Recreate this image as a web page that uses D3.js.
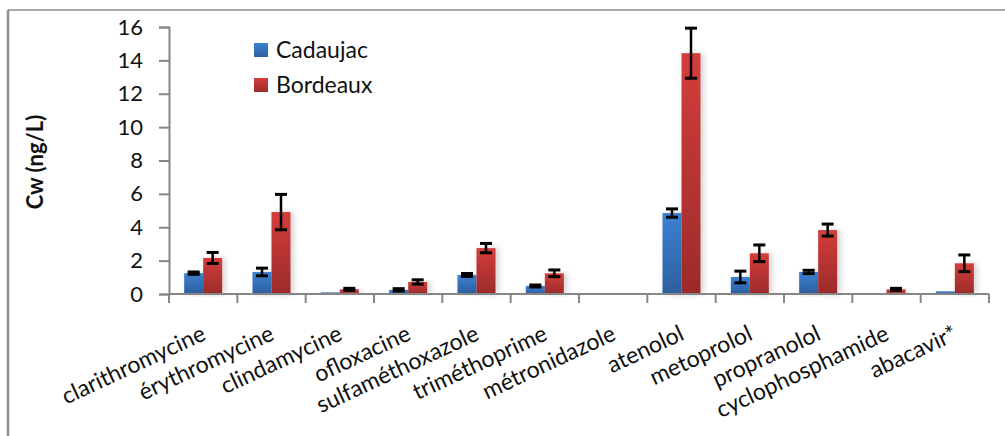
<!DOCTYPE html>
<html lang="fr">
<head>
<meta charset="UTF-8">
<title>Cw</title>
<script src="https://d3js.org/d3.v7.min.js"></script>
<style>
    body, html { margin: 0; padding: 0; background: #fff; overflow: hidden; }
    svg text { font-family: Lato, "Open Sans", sans-serif; fill: #111; }
</style>
</head>
<body>
<svg id="chart" width="1005" height="436"></svg>
<script>
// données
var categories = ["clarithromycine", "érythromycine", "clindamycine", "ofloxacine",
    "sulfaméthoxazole", "triméthoprime", "métronidazole", "atenolol",
    "metoprolol", "propranolol", "cyclophosphamide", "abacavir*"];
var seriesNames = ["Cadaujac", "Bordeaux"];
var cadaujac    = [1.25, 1.32, 0.10, 0.25, 1.14, 0.48, 0, 4.85, 1.02, 1.32, 0, 0.16];
var cadaujacErr = [0.07, 0.23, 0,    0.07, 0.09, 0.06, 0, 0.25, 0.35, 0.10, 0, 0];
var bordeaux    = [2.16, 4.91, 0.28, 0.72, 2.75, 1.24, 0, 14.43, 2.44, 3.83, 0.28, 1.84];
var bordeauxErr = [0.33, 1.06, 0.06, 0.13, 0.28, 0.20, 0, 1.50, 0.50, 0.36, 0.06, 0.50];
var yTicks = [0, 2, 4, 6, 8, 10, 12, 14, 16];

var svg = d3.select("#chart");
var defs = svg.append("defs");

// dégradés des barres
function grad(id, c1, c2) {
    var g = defs.append("linearGradient").attr("id", id)
        .attr("x1", 0).attr("y1", 0).attr("x2", 0).attr("y2", 1);
    g.append("stop").attr("offset", "0%").attr("stop-color", c1);
    g.append("stop").attr("offset", "100%").attr("stop-color", c2);
}
grad("gBlue", "#3d81d2", "#2d5f9e");
grad("gRed", "#d43d3b", "#9b2b2a");
var fillOf = { "Cadaujac": "url(#gBlue)", "Bordeaux": "url(#gRed)" };

var shadow = defs.append("filter").attr("id", "shadow")
    .attr("x", "-50%").attr("y", "-10%").attr("width", "200%").attr("height", "120%");
shadow.append("feDropShadow").attr("dx", 3).attr("dy", 0)
    .attr("stdDeviation", 3).attr("flood-color", "#000").attr("flood-opacity", 0.18);

// cadre extérieur (haut et gauche)
svg.append("line").attr("x1", 8).attr("x2", 1005).attr("y1", 10).attr("y2", 10)
    .attr("stroke", "#8c8c8c").attr("stroke-width", 1.5);
svg.append("line").attr("x1", 8).attr("x2", 8).attr("y1", 10).attr("y2", 436)
    .attr("stroke", "#8c8c8c").attr("stroke-width", 2.5);

var plotL = 169, plotR = 989, plotT = 27, plotB = 294;

var x0 = d3.scaleBand().domain(categories).range([plotL, plotR])
    .paddingInner(0.444).paddingOuter(0.222);
var x1 = d3.scaleBand().domain(seriesNames).range([0, x0.bandwidth()]);
var y = d3.scaleLinear().domain([0, 16]).range([plotB, plotT]);

var rows = categories.map(function (c, i) {
    return {
        cat: c,
        vals: [
            { s: "Cadaujac", v: cadaujac[i], e: cadaujacErr[i] },
            { s: "Bordeaux", v: bordeaux[i], e: bordeauxErr[i] }
        ]
    };
});

// axe Y
var yAxis = svg.append("g").attr("transform", "translate(" + plotL + ",0)")
    .call(d3.axisLeft(y).tickValues(yTicks).tickSize(10).tickPadding(16));
yAxis.select(".domain").attr("stroke", "#868686").attr("stroke-width", 2);
yAxis.selectAll(".tick line").attr("stroke", "#868686").attr("stroke-width", 2);
yAxis.selectAll(".tick text").style("font-size", "22px").attr("fill", "#111");

// barres
var groups = svg.append("g").selectAll("g").data(rows).enter().append("g")
    .attr("transform", function (d) { return "translate(" + x0(d.cat) + ",0)"; });

groups.selectAll("rect").data(function (d) { return d.vals.filter(function (v) { return v.v > 0; }); })
    .enter().append("rect")
    .attr("x", function (d) { return x1(d.s); })
    .attr("width", x1.bandwidth())
    .attr("y", function (d) { return y(d.v); })
    .attr("height", function (d) { return plotB - y(d.v); })
    .attr("fill", function (d) { return fillOf[d.s]; })
    .attr("filter", "url(#shadow)");

// axe X
var xAxis = svg.append("g").attr("transform", "translate(0," + plotB + ")");
xAxis.append("line").attr("x1", plotL).attr("x2", plotR)
    .attr("stroke", "#868686").attr("stroke-width", 2);
var step = x0.step();
xAxis.selectAll(".tk").data(d3.range(categories.length + 1)).enter().append("line")
    .attr("x1", function (i) { return plotL + i * step; })
    .attr("x2", function (i) { return plotL + i * step; })
    .attr("y1", 0).attr("y2", 9)
    .attr("stroke", "#868686").attr("stroke-width", 2);

// barres d'erreur
var errs = groups.selectAll("g.err").data(function (d) { return d.vals.filter(function (v) { return v.e > 0; }); })
    .enter().append("g").attr("class", "err");
errs.append("line")
    .attr("x1", function (d) { return x1(d.s) + x1.bandwidth() / 2; })
    .attr("x2", function (d) { return x1(d.s) + x1.bandwidth() / 2; })
    .attr("y1", function (d) { return y(d.v + d.e); })
    .attr("y2", function (d) { return y(d.v - d.e); })
    .attr("stroke", "#000").attr("stroke-width", 2.5);
[1, -1].forEach(function (sg) {
    errs.append("line")
        .attr("x1", function (d) { return x1(d.s) + x1.bandwidth() / 2 - 6; })
        .attr("x2", function (d) { return x1(d.s) + x1.bandwidth() / 2 + 6; })
        .attr("y1", function (d) { return y(d.v + sg * d.e); })
        .attr("y2", function (d) { return y(d.v + sg * d.e); })
        .attr("stroke", "#000").attr("stroke-width", 3);
});

// étiquettes des catégories
svg.append("g").selectAll("text").data(categories).enter().append("text")
    .attr("transform", function (c) {
        return "translate(" + (x0(c) + x0.bandwidth() / 2 + 4) + ",339) rotate(-25)";
    })
    .attr("text-anchor", "end")
    .style("font-size", "23px")
    .text(function (c) { return c; });

// titre axe Y
svg.append("text")
    .attr("transform", "translate(43,162) rotate(-90)")
    .attr("text-anchor", "middle")
    .style("font-size", "22px").style("font-weight", "bold")
    .text("Cw (ng/L)");

// légende
var legend = svg.append("g").selectAll("g").data(seriesNames).enter().append("g")
    .attr("transform", function (d, i) { return "translate(254," + (43 + i * 35) + ")"; });
legend.append("rect").attr("width", 14).attr("height", 14)
    .attr("fill", function (d) { return fillOf[d]; });
legend.append("text").attr("x", 22).attr("y", 15)
    .style("font-size", "23px")
    .text(function (d) { return d; });
</script>
</body>
</html>
